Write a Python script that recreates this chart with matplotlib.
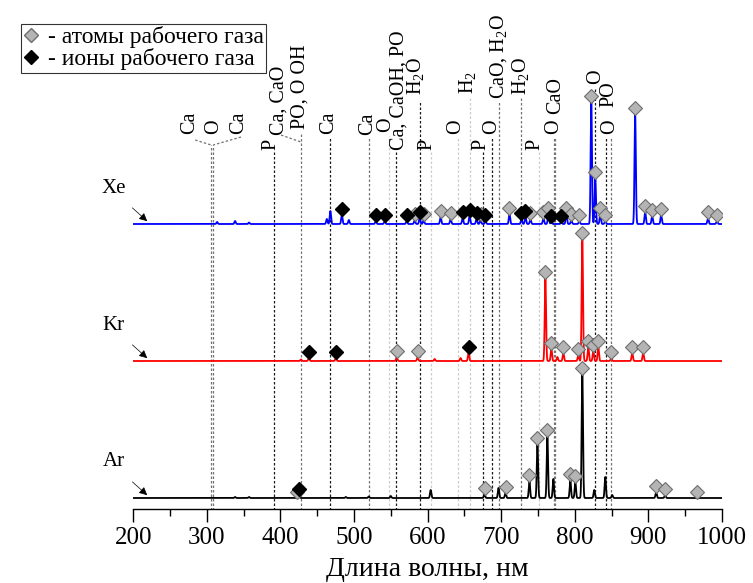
import numpy as np
import matplotlib.pyplot as plt
from matplotlib.lines import Line2D

plt.rcParams['font.family'] = ['Liberation Serif', 'DejaVu Serif']
plt.rcParams['mathtext.fontset'] = 'custom'
plt.rcParams['mathtext.rm'] = 'Liberation Serif'

# emission peaks: wavelength, nm / height, a.u.
xe_wl = [313.9, 338.3, 357.3, 463.0, 467.8, 483.4, 492.9, 529.5, 541.7, 571.5, 582.4, 589.2, 594.6,
         617.6, 631.2, 647.5, 657.0, 666.4, 671.9, 678.6, 711.2, 727.5, 732.9, 739.7, 757.3, 764.1,
         768.1, 781.7, 788.5, 795.3, 806.1, 822.4, 827.8, 834.6, 841.4, 882.0, 895.6, 905.1, 917.3,
         981.0, 993.2]
xe_h = [2, 3, 1.5, 5, 13, 9, 4, 3, 3, 3, 4, 6, 4,
        7, 5, 6, 8, 5, 4, 3, 10, 5, 7, 5, 6, 10,
        2, 2, 10, 4, 3, 122, 46, 10, 3, 110, 12, 8, 9,
        6, 3]
xe_atoms = [582.4, 594.6, 617.6, 631.2, 671.9, 711.2, 739.7, 757.3, 764.1, 788.5, 795.3, 806.1,
            822.4, 827.8, 834.6, 841.4, 882.0, 895.6, 905.1, 917.3, 981.0, 993.2]
xe_ions = [483.4, 529.5, 541.7, 571.5, 589.2, 647.5, 657.0, 666.4, 678.6, 727.5, 732.9, 768.1, 781.7]

kr_wl = [427.8, 438.6, 475.3, 558.0, 586.4, 609.5, 644.7, 655.6, 760.0, 768.1, 776.3, 784.4,
         804.7, 810.2, 818.3, 825.1, 831.9, 849.5, 878.0, 892.9]
kr_h = [1.5, 3, 3, 4, 4, 2, 3, 8, 83, 12, 4, 8,
        6, 122, 14, 10, 14, 3, 8, 8]
kr_atoms = [558.0, 586.4, 760.0, 768.1, 784.4, 804.7, 810.2, 818.3, 825.1, 831.9, 849.5, 878.0, 892.9]
kr_ions = [438.6, 475.3, 655.6]

ar_wl = [338.3, 357.3, 425.0, 488.8, 520.0, 549.8, 604.1, 677.3, 696.3, 705.8, 738.3, 749.2,
         762.7, 770.8, 793.9, 800.7, 810.2, 826.4, 841.4, 850.8, 910.5, 922.7]
ar_h = [1, 1, 3, 1, 1.5, 2, 8, 4, 10, 5, 17, 54,
        62, 19, 18, 16, 124, 8, 21, 3, 6, 3]
ar_atoms = [422.4, 677.3, 705.8, 738.3, 749.2, 762.7, 793.9, 800.7, 810.2, 910.5, 922.7, 966.1]
ar_ions = [425.0]

gases = ['Xe', 'Kr', 'Ar']
colors = {'Xe': 'blue', 'Kr': 'red', 'Ar': 'black'}
offsets = {'Xe': 286, 'Kr': 149, 'Ar': 12}
peaks = {'Xe': (xe_wl, xe_h), 'Kr': (kr_wl, kr_h), 'Ar': (ar_wl, ar_h)}
atoms = {'Xe': xe_atoms, 'Kr': kr_atoms, 'Ar': ar_atoms}
ions = {'Xe': xe_ions, 'Kr': kr_ions, 'Ar': ar_ions}

# reference lines: wavelength, shade, top
ref_lines = [(305.8, 'g', 365), (308.5, 'g', 365), (391.2, 'k', 358), (427.8, 'g', 378),
             (467.1, 'k', 373), (520.0, 'g', 372), (547.1, 'l', 374), (556.6, 'k', 358),
             (589.2, 'k', 408), (604.1, 'l', 358), (640.7, 'l', 373), (657.0, 'l', 413),
             (674.6, 'k', 358), (686.8, 'k', 373), (696.3, 'g', 408), (727.5, 'g', 412),
             (751.9, 'l', 358), (772.2, 'g', 373), (773.6, 'g', 373), (827.8, 'k', 423),
             (842.7, 'k', 373), (849.5, 'g', 373)]
shades = {'k': '0.1', 'g': '0.45', 'l': '0.8'}

line_labels = [('Ca', 275.9, 376), ('O', 309.8, 376), ('Ca', 343.7, 376), ('P', 387.1, 360),
               ('Ca, CaO', 398.0, 375), ('PO, O OH', 426.4, 381), ('Ca', 465.8, 376),
               ('Ca', 518.6, 375), ('O', 543.5, 378), ('Ca, CaOH, PO', 561.0, 360),
               ('H$_\\mathregular{2}$O', 585.1, 415), ('P', 598.6, 360), ('O', 638.0, 376),
               ('H$_\\mathregular{2}$', 655.6, 416), ('P', 671.9, 360), ('O', 686.8, 376),
               ('CaO, H$_\\mathregular{2}$O', 696.3, 411), ('H$_\\mathregular{2}$O', 727.5, 415),
               ('P', 746.4, 360), ('O', 770.8, 376), ('CaO', 773.6, 396), ('O', 827.8, 426),
               ('PO', 846.8, 403), ('O', 846.8, 376)]
connectors = [(284.1, 370, 305.8, 365), (346.4, 373, 308.5, 365), (400.7, 375, 427.8, 368)]

wl = np.linspace(200, 1000, 8001)


def spectrum(x, centers, heights, s=0.9):
    x = np.asarray(x, dtype=float)
    y = np.zeros_like(x)
    for c, h in zip(centers, heights):
        y = y + h * np.exp(-0.5 * ((x - c) / s) ** 2)
    return y


fig = plt.figure(figsize=(7.53, 5.83), dpi=100)
ax = fig.add_axes([133.3 / 753, 74 / 583, (722 - 133.3) / 753, 509 / 583])
ax.set_xlim(200, 1000)
ax.set_ylim(1, 510)

for x, sh, top in ref_lines:
    ax.plot([x, x], [0, top], color=shades[sh], lw=0.9, ls=(0, (2, 1.6)), zorder=1)
for x1, y1, x2, y2 in connectors:
    ax.plot([x1, x2], [y1, y2], color='0.45', lw=0.9, ls=(0, (2, 1.6)), zorder=1)
for txt, x, y in line_labels:
    ax.text(x, y, txt, rotation=90, ha='center', va='bottom', fontsize=14.5)

for g in gases:
    c, h = peaks[g]
    base = offsets[g]
    ax.plot(wl, base + spectrum(wl, c, h), color=colors[g], lw=1.3, zorder=3)
    ya = base + spectrum(atoms[g], c, h) + 6
    ax.plot(atoms[g], ya, 'D', ms=7.5, mfc='#b4b4b4', mec='#6e6e6e', mew=0.8, ls='none', zorder=4)
    yi = base + spectrum(ions[g], c, h) + 6
    ax.plot(ions[g], yi, 'D', ms=7.5, mfc='black', mec='black', ls='none', zorder=5)
    ax.annotate('', xy=(221.7, base + 1), xytext=(195.9, base + 18), annotation_clip=False,
                arrowprops=dict(arrowstyle='-|>', color='black', lw=0.5, mutation_scale=12))
    ax.text(173.0, base + 36, g, fontsize=15, ha='center', va='center', clip_on=False)

for s in ['top', 'right', 'left']:
    ax.spines[s].set_visible(False)
ax.spines['bottom'].set_linewidth(1.0)
ax.set_yticks([])
ax.set_xticks(np.arange(200, 1001, 100))
ax.set_xticks(np.arange(250, 1000, 100), minor=True)
ax.tick_params(axis='x', which='major', length=9, width=1, labelsize=18, pad=4)
ax.tick_params(axis='x', which='minor', length=5, width=1)
ax.set_xlabel('Длина волны, нм', fontsize=20, labelpad=6)

handles = [Line2D([], [], marker='D', ls='none', ms=7.5, mfc='#b4b4b4', mec='#6e6e6e'),
           Line2D([], [], marker='D', ls='none', ms=7.5, mfc='black', mec='black')]
leg = fig.legend(handles, ['- атомы рабочего газа', '- ионы рабочего газа'],
                 loc='upper right', bbox_to_anchor=(266 / 753, 1 - 24 / 583), fontsize=17,
                 frameon=True, fancybox=False, edgecolor='black', handlelength=0.7,
                 handletextpad=0.35, borderpad=0.1, labelspacing=0.0, borderaxespad=0)
leg.get_frame().set_linewidth(0.8)

fig.savefig('out.png', dpi=100)
